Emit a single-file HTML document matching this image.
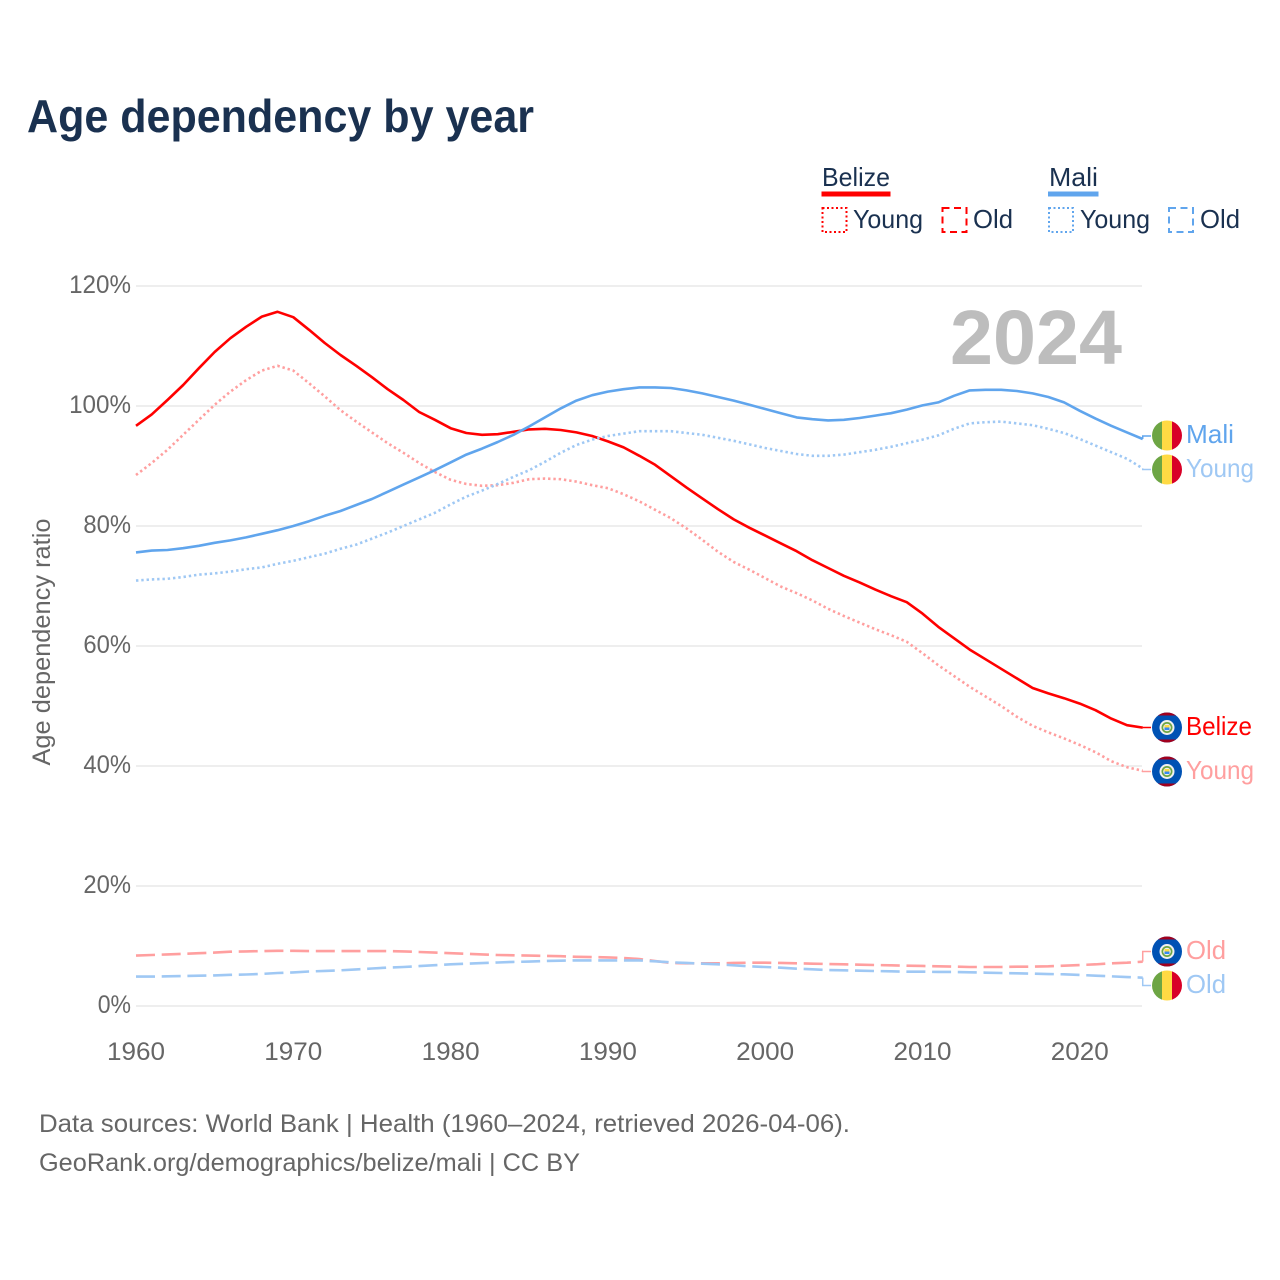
<!DOCTYPE html>
<html lang="en">
<head>
<meta charset="utf-8">
<title>Age dependency by year</title>
<style>
html,body{margin:0;padding:0;background:#fff;width:1280px;height:1280px;overflow:hidden}
svg{display:block;font-family:"Liberation Sans",sans-serif}
</style>
</head>
<body>
<svg id="chart" xmlns="http://www.w3.org/2000/svg" width="1280" height="1280" viewBox="0 0 1280 1280">
  <rect x="0" y="0" width="1280" height="1280" fill="#ffffff"/>
  <text x="27" y="132" font-size="46" font-weight="700" fill="#1a3150" textLength="507" lengthAdjust="spacingAndGlyphs">Age dependency by year</text>

  <g>
    <text x="822" y="186" font-size="26" fill="#1a3150" textLength="68" lengthAdjust="spacingAndGlyphs">Belize</text>
    <rect x="821.5" y="191.5" width="69" height="5" fill="#ff0000"/>
    <rect x="822.5" y="208" width="24" height="24" fill="none" stroke="#ff0000" stroke-width="2" stroke-dasharray="2 2.5"/>
    <text x="853" y="228" font-size="26" fill="#1a3150" textLength="70" lengthAdjust="spacingAndGlyphs">Young</text>
    <rect x="942.5" y="208" width="24" height="24" fill="none" stroke="#ff0000" stroke-width="2" stroke-dasharray="7 4.5"/>
    <text x="973" y="228" font-size="26" fill="#1a3150" textLength="40" lengthAdjust="spacingAndGlyphs">Old</text>
    <text x="1049" y="186" font-size="26" fill="#1a3150" textLength="49" lengthAdjust="spacingAndGlyphs">Mali</text>
    <rect x="1048" y="191.5" width="50.5" height="5" fill="#60a5ed"/>
    <rect x="1049" y="208" width="24" height="24" fill="none" stroke="#60a5ed" stroke-width="2" stroke-dasharray="2 2.5"/>
    <text x="1080" y="228" font-size="26" fill="#1a3150" textLength="70" lengthAdjust="spacingAndGlyphs">Young</text>
    <rect x="1169" y="208" width="24" height="24" fill="none" stroke="#60a5ed" stroke-width="2" stroke-dasharray="7 4.5"/>
    <text x="1200" y="228" font-size="26" fill="#1a3150" textLength="40" lengthAdjust="spacingAndGlyphs">Old</text>
  </g>

  <g id="grid"></g>
  <g id="yticks"></g>
  <g id="xticks"></g>
  <text transform="translate(50,642) rotate(-90)" text-anchor="middle" font-size="25" fill="#666666" textLength="247" lengthAdjust="spacingAndGlyphs">Age dependency ratio</text>
  <text x="950" y="364" font-size="77" font-weight="700" fill="#bdbdbd" textLength="172" lengthAdjust="spacingAndGlyphs">2024</text>

  <g id="series"></g>

  <g>
    <g transform="translate(1167,435.5)">
      <clipPath id="c1"><circle r="15"/></clipPath>
      <g clip-path="url(#c1)"><rect x="-15" y="-15" width="10" height="30" fill="#6da544"/><rect x="-5" y="-15" width="10" height="30" fill="#ffda44"/><rect x="5" y="-15" width="10" height="30" fill="#d80027"/></g>
    </g>
    <text x="1186" y="443" font-size="26" fill="#60a5ed" textLength="48" lengthAdjust="spacingAndGlyphs">Mali</text>

    <g transform="translate(1167,469.5)">
      <clipPath id="c2"><circle r="15"/></clipPath>
      <g clip-path="url(#c2)"><rect x="-15" y="-15" width="10" height="30" fill="#6da544"/><rect x="-5" y="-15" width="10" height="30" fill="#ffda44"/><rect x="5" y="-15" width="10" height="30" fill="#d80027"/></g>
    </g>
    <text x="1186" y="477" font-size="26" fill="#9fc8f4" textLength="68" lengthAdjust="spacingAndGlyphs">Young</text>

    <g transform="translate(1167,727.5)">
      <clipPath id="c3"><circle r="15"/></clipPath>
      <g clip-path="url(#c3)"><rect x="-15" y="-15" width="30" height="30" fill="#0052b4"/><rect x="-15" y="-15" width="30" height="3" fill="#a2001d"/><rect x="-15" y="12" width="30" height="3" fill="#a2001d"/><circle r="7.5" fill="#f0f0f0"/><circle r="5.5" fill="#6da544"/><circle r="3.8" fill="#f0f0f0"/><rect x="-2.5" y="-2.5" width="5" height="2.5" fill="#ffda44"/><rect x="-2.5" y="0" width="5" height="2.5" fill="#338af3"/></g>
    </g>
    <text x="1186" y="735" font-size="26" fill="#ff0000" textLength="66" lengthAdjust="spacingAndGlyphs">Belize</text>

    <g transform="translate(1167,771.5)">
      <clipPath id="c4"><circle r="15"/></clipPath>
      <g clip-path="url(#c4)"><rect x="-15" y="-15" width="30" height="30" fill="#0052b4"/><rect x="-15" y="-15" width="30" height="3" fill="#a2001d"/><rect x="-15" y="12" width="30" height="3" fill="#a2001d"/><circle r="7.5" fill="#f0f0f0"/><circle r="5.5" fill="#6da544"/><circle r="3.8" fill="#f0f0f0"/><rect x="-2.5" y="-2.5" width="5" height="2.5" fill="#ffda44"/><rect x="-2.5" y="0" width="5" height="2.5" fill="#338af3"/></g>
    </g>
    <text x="1186" y="779" font-size="26" fill="#ff9f9f" textLength="68" lengthAdjust="spacingAndGlyphs">Young</text>

    <g transform="translate(1167,951.5)">
      <clipPath id="c5"><circle r="15"/></clipPath>
      <g clip-path="url(#c5)"><rect x="-15" y="-15" width="30" height="30" fill="#0052b4"/><rect x="-15" y="-15" width="30" height="3" fill="#a2001d"/><rect x="-15" y="12" width="30" height="3" fill="#a2001d"/><circle r="7.5" fill="#f0f0f0"/><circle r="5.5" fill="#6da544"/><circle r="3.8" fill="#f0f0f0"/><rect x="-2.5" y="-2.5" width="5" height="2.5" fill="#ffda44"/><rect x="-2.5" y="0" width="5" height="2.5" fill="#338af3"/></g>
    </g>
    <text x="1186" y="959" font-size="26" fill="#ff9f9f" textLength="40" lengthAdjust="spacingAndGlyphs">Old</text>

    <g transform="translate(1167,985.5)">
      <clipPath id="c6"><circle r="15"/></clipPath>
      <g clip-path="url(#c6)"><rect x="-15" y="-15" width="10" height="30" fill="#6da544"/><rect x="-5" y="-15" width="10" height="30" fill="#ffda44"/><rect x="5" y="-15" width="10" height="30" fill="#d80027"/></g>
    </g>
    <text x="1186" y="993" font-size="26" fill="#9fc8f4" textLength="40" lengthAdjust="spacingAndGlyphs">Old</text>
  </g>

  <text x="39" y="1132" font-size="25" fill="#666666" textLength="811" lengthAdjust="spacingAndGlyphs">Data sources: World Bank | Health (1960–2024, retrieved 2026-04-06).</text>
  <text x="39" y="1171" font-size="25" fill="#666666" textLength="541" lengthAdjust="spacingAndGlyphs">GeoRank.org/demographics/belize/mali | CC BY</text>
</svg>
<script>
const years = [1960,1961,1962,1963,1964,1965,1966,1967,1968,1969,1970,1971,1972,1973,1974,1975,1976,1977,1978,1979,1980,1981,1982,1983,1984,1985,1986,1987,1988,1989,1990,1991,1992,1993,1994,1995,1996,1997,1998,1999,2000,2001,2002,2003,2004,2005,2006,2007,2008,2009,2010,2011,2012,2013,2014,2015,2016,2017,2018,2019,2020,2021,2022,2023,2024];
const xTickLabels = [1960,1970,1980,1990,2000,2010,2020];
const yTickLabels = [0,20,40,60,80,100,120];
const belizeTotal = [96.7,98.6,101,103.5,106.3,109,111.3,113.2,114.9,115.7,
  114.8,112.7,110.5,108.5,106.7,104.8,102.8,101,99,97.7,
  96.3,95.5,95.2,95.3,95.7,96.1,96.2,96,95.6,95,
  94.1,93.1,91.7,90.2,88.3,86.4,84.6,82.8,81.1,79.7,
  78.4,77.1,75.8,74.3,73,71.7,70.6,69.4,68.3,67.3,
  65.4,63.2,61.3,59.4,57.8,56.2,54.6,53,52.1,51.3,
  50.4,49.3,47.9,46.8,46.4];
const belizeYoung = [88.5,90.5,92.7,95.2,97.7,100.2,102.4,104.3,105.9,106.7,
  105.9,103.8,101.6,99.3,97.4,95.6,93.8,92.2,90.5,89,
  87.7,87,86.7,86.8,87.2,87.8,87.9,87.8,87.4,86.8,
  86.3,85.3,84.1,82.7,81.3,79.6,77.7,75.7,74,72.7,
  71.3,69.9,68.8,67.6,66.2,65,63.9,62.8,61.8,60.7,
  58.8,56.8,55,53.2,51.6,50,48.2,46.7,45.6,44.6,
  43.5,42.3,40.8,39.8,39.2];
const belizeOld = [8.4,8.5,8.6,8.7,8.8,8.9,9.05,9.1,9.15,9.2,
  9.2,9.15,9.15,9.15,9.15,9.15,9.15,9.1,9,8.9,
  8.8,8.7,8.6,8.5,8.45,8.4,8.35,8.3,8.2,8.15,
  8.1,8,7.83,7.5,7.17,7.11,7.11,7.11,7.17,7.22,
  7.22,7.17,7.11,7.06,7,6.94,6.89,6.83,6.78,6.72,
  6.67,6.61,6.56,6.5,6.5,6.5,6.56,6.56,6.61,6.72,
  6.83,6.94,7.11,7.22,7.39];
const maliTotal = [75.6,75.9,76,76.3,76.7,77.2,77.6,78.1,78.7,79.3,
  80,80.8,81.7,82.5,83.5,84.5,85.7,86.9,88.1,89.3,
  90.6,91.9,92.9,94,95.2,96.6,98.1,99.6,100.9,101.8,
  102.4,102.8,103.1,103.1,103,102.6,102.1,101.5,100.9,100.2,
  99.5,98.8,98.1,97.8,97.6,97.7,98,98.4,98.8,99.4,
  100.1,100.6,101.7,102.6,102.7,102.7,102.5,102.1,101.5,100.6,
  99.2,97.9,96.7,95.6,94.5];
const maliYoung = [70.9,71.1,71.2,71.5,71.9,72.1,72.4,72.8,73.1,73.7,
  74.2,74.8,75.4,76.2,76.9,77.9,78.9,80,81.1,82.2,
  83.6,84.9,85.9,87,88.2,89.3,90.7,92.2,93.5,94.4,
  95,95.4,95.8,95.8,95.8,95.5,95.2,94.7,94.2,93.6,
  93,92.5,92,91.7,91.7,91.9,92.3,92.7,93.2,93.8,
  94.4,95.1,96.2,97.1,97.3,97.4,97.1,96.8,96.2,95.5,
  94.5,93.4,92.3,91.2,89.6];
const maliOld = [4.9,4.9,4.95,5,5.05,5.1,5.2,5.25,5.35,5.5,
  5.6,5.75,5.85,5.95,6.1,6.25,6.4,6.5,6.65,6.8,
  6.95,7.05,7.15,7.25,7.35,7.4,7.5,7.55,7.6,7.6,
  7.6,7.6,7.6,7.44,7.28,7.17,7.06,6.94,6.78,6.61,
  6.5,6.39,6.22,6.11,6,5.94,5.89,5.83,5.78,5.72,
  5.72,5.67,5.67,5.61,5.56,5.5,5.44,5.39,5.33,5.28,
  5.17,5.06,4.94,4.83,4.72];

const NS = 'http://www.w3.org/2000/svg';
function xScale(year){ return 136 + (year - 1960) * 15.73; }
function yScale(pct){ return 1006 - pct * 6; }

const gridLayer = document.getElementById('grid');
const yLayer = document.getElementById('yticks');
yTickLabels.forEach(function(v){
  const line = document.createElementNS(NS,'line');
  
  
  line.setAttribute('x1', 136);
  line.setAttribute('x2', 1142);
  line.setAttribute('y1', yScale(v));
  line.setAttribute('y2', yScale(v));
  line.setAttribute('stroke', '#e9e9e9');
  line.setAttribute('stroke-width', '1.5');
  gridLayer.appendChild(line);
  const label = String(v) + '%';
  const t = document.createElementNS(NS,'text');
  
  
  t.setAttribute('x', 131);
  t.setAttribute('y', yScale(v) + 7);
  t.setAttribute('text-anchor', 'end');
  t.setAttribute('font-size', '25');
  t.setAttribute('fill', '#666666');
  t.setAttribute('textLength', 14.3 * String(v).length + 19);
  t.setAttribute('lengthAdjust', 'spacingAndGlyphs');
  t.textContent = label;
  yLayer.appendChild(t);
});

const xLayer = document.getElementById('xticks');
xTickLabels.forEach(function(v){
  const t = document.createElementNS(NS,'text');
  
  
  t.setAttribute('x', xScale(v));
  t.setAttribute('y', 1060);
  t.setAttribute('text-anchor', 'middle');
  t.setAttribute('font-size', '25');
  t.setAttribute('fill', '#666666');
  t.setAttribute('textLength', '58');
  t.setAttribute('lengthAdjust', 'spacingAndGlyphs');
  t.textContent = String(v);
  xLayer.appendChild(t);
});

const seriesLayer = document.getElementById('series');
function drawSeries(name, values, color, width, dash, labelY){
  const pts = values.map(function(v,i){ return xScale(years[i]).toFixed(2) + ',' + yScale(v).toFixed(2); }).join(' ');
  const p = document.createElementNS(NS,'polyline');
  
  
  p.setAttribute('points', pts);
  p.setAttribute('fill', 'none');
  p.setAttribute('stroke', color);
  p.setAttribute('stroke-width', width);
  p.setAttribute('stroke-linejoin', 'round');
  if (dash) p.setAttribute('stroke-dasharray', dash);
  seriesLayer.appendChild(p);
  const endX = xScale(years[years.length - 1]);
  const endY = yScale(values[values.length - 1]);
  const c = document.createElementNS(NS,'path');
  
  
  c.setAttribute('d', 'M' + endX.toFixed(2) + ' ' + endY.toFixed(2) + 'V' + labelY + 'H1151');
  c.setAttribute('fill', 'none');
  c.setAttribute('stroke', color);
  c.setAttribute('stroke-width', '1.5');
  seriesLayer.appendChild(c);
}
drawSeries('line-belize-young', belizeYoung, '#ff9f9f', 2.6, '2.4 2.9', 771.5);
drawSeries('line-belize-old', belizeOld, '#ff9f9f', 2.6, '19 6.7', 951.5);
drawSeries('line-belize-total', belizeTotal, '#ff0000', 2.6, null, 727.5);
drawSeries('line-mali-young', maliYoung, '#9fc8f4', 2.6, '2.4 2.9', 469.5);
drawSeries('line-mali-old', maliOld, '#9fc8f4', 2.6, '19 6.7', 985.5);
drawSeries('line-mali-total', maliTotal, '#60a5ed', 2.6, null, 436);
</script>
</body>
</html>
